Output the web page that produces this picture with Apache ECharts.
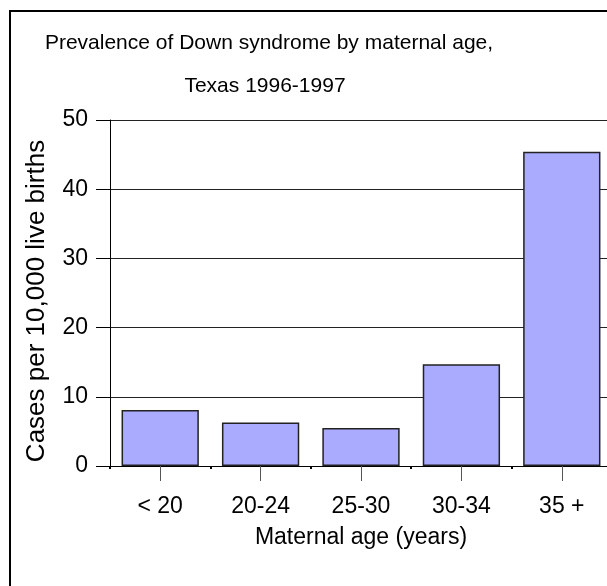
<!DOCTYPE html>
<html>
<head>
<meta charset="utf-8">
<script src="https://cdn.jsdelivr.net/npm/echarts@6/dist/echarts.min.js"></script>
<style>
html,body{margin:0;padding:0;background:#fff;}
#chart{width:607px;height:586px;}
</style>
</head>
<body>
<div id="chart"></div>
<script>
const categories = ['< 20', '20-24', '25-30', '30-34', '35 +'];
const values = [8.1, 6.3, 5.5, 14.7, 45.4];
const titleLines = ['Prevalence of Down syndrome by maternal age,', 'Texas 1996-1997'];
const xAxisName = 'Maternal age (years)';
const yAxisName = 'Cases per 10,000 live births';

const FONT = "'Liberation Sans', Arial, sans-serif";
const chart = echarts.init(document.getElementById('chart'), null, {renderer: 'canvas'});
chart.setOption({
  backgroundColor: '#fff',
  animation: false,
  graphic: [
    {type: 'rect', shape: {x: 10, y: 11, width: 700, height: 700}, style: {fill: 'none', stroke: '#000', lineWidth: 2}, z: 100},
    {type: 'text', x: 269, y: 43, style: {text: titleLines[0], align: 'center', verticalAlign: 'middle', fontSize: 21, fontFamily: FONT, fill: '#000'}},
    {type: 'text', x: 265, y: 86, style: {text: titleLines[1], align: 'center', verticalAlign: 'middle', fontSize: 21, fontFamily: FONT, fill: '#000'}}
  ],
  grid: {left: 110, top: 120, width: 502, height: 346, containLabel: false, outerBoundsMode: 'none'},
  xAxis: [{
    type: 'category',
    data: categories,
    position: 'bottom',
    name: xAxisName,
    nameLocation: 'middle',
    nameGap: 60,
    nameTextStyle: {fontSize: 23, fontFamily: FONT, color: '#000', verticalAlign: 'top'},
    axisLine: {lineStyle: {color: '#000', width: 1}},
    axisTick: {show: true, alignWithLabel: true, length: 15, lineStyle: {color: '#555'}},
    axisLabel: {margin: 29, fontSize: 23, fontFamily: FONT, color: '#000', verticalAlign: 'top'},
    splitLine: {show: false}
  }, {
    type: 'category',
    data: categories,
    position: 'bottom',
    axisLine: {show: false},
    axisTick: {show: true, length: 3, lineStyle: {color: '#000', width: 2}},
    axisLabel: {show: false},
    splitLine: {show: false}
  }],
  yAxis: {
    type: 'value',
    min: 0, max: 50, interval: 10,
    name: yAxisName,
    nameLocation: 'middle',
    nameGap: 60,
    nameTextStyle: {fontSize: 26, fontFamily: FONT, color: '#000', padding: [0, 16, 0, 0]},
    axisLine: {show: true, lineStyle: {color: '#000', width: 1}},
    axisTick: {show: true, length: 14, lineStyle: {color: '#000'}},
    axisLabel: {margin: 22, fontSize: 23, fontFamily: FONT, color: '#000'},
    splitLine: {show: true, lineStyle: {color: '#222', width: 1}}
  },
  series: [{
    type: 'bar',
    data: values,
    xAxisIndex: 0,
    barCategoryGap: '23%',
    itemStyle: {color: '#aaaaff', borderColor: '#222', borderWidth: 1.5},
    z: 3
  }]
});
</script>
</body>
</html>
